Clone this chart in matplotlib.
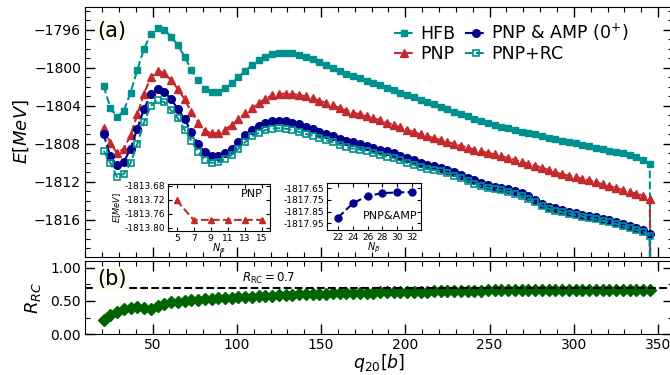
import numpy as np
import matplotlib
matplotlib.use("Agg")
import matplotlib.pyplot as plt
from matplotlib.ticker import MultipleLocator, FormatStrFormatter

# deformation grid (b)
q20 = np.arange(21, 346, 4)

E_hfb = [-1801.9, -1804.2, -1805.2, -1804.5, -1802.6, -1800.2, -1798.0, -1796.4, -1795.8, -1796.0,
         -1796.7, -1797.6, -1798.8, -1800.2, -1801.3, -1802.2, -1802.5, -1802.5, -1802.1, -1801.6,
         -1801.0, -1800.3, -1799.7, -1799.2, -1798.8, -1798.55, -1798.45, -1798.4, -1798.45, -1798.6,
         -1798.85, -1799.1, -1799.4, -1799.7, -1800.0, -1800.3, -1800.6, -1800.85, -1801.1, -1801.35,
         -1801.6, -1801.85, -1802.1, -1802.35, -1802.6, -1802.85, -1803.1, -1803.35, -1803.6, -1803.85,
         -1804.1, -1804.35, -1804.6, -1804.85, -1805.1, -1805.35, -1805.6, -1805.8, -1806.0, -1806.2,
         -1806.35, -1806.5, -1806.7, -1806.85, -1807.0, -1807.2, -1807.35, -1807.5, -1807.65, -1807.8,
         -1807.95, -1808.1, -1808.25, -1808.4, -1808.55, -1808.7, -1808.85, -1809.0, -1809.2, -1809.4,
         -1809.65, -1810.1]

E_pnp = [-1806.3, -1807.9, -1809.0, -1808.5, -1807.1, -1804.9, -1802.7, -1801.0, -1800.3, -1800.55,
         -1801.3, -1802.2, -1803.3, -1804.6, -1805.75, -1806.6, -1806.9, -1806.85, -1806.5, -1806.0,
         -1805.4, -1804.8, -1804.2, -1803.7, -1803.25, -1802.9, -1802.75, -1802.7, -1802.75, -1802.85,
         -1803.0, -1803.2, -1803.45, -1803.7, -1803.95, -1804.2, -1804.5, -1804.7, -1804.9, -1805.1,
         -1805.3, -1805.5, -1805.75, -1806.0, -1806.25, -1806.5, -1806.75, -1807.0, -1807.2, -1807.4,
         -1807.6, -1807.8, -1808.0, -1808.2, -1808.4, -1808.6, -1808.8, -1808.95, -1809.1, -1809.3,
         -1809.5, -1809.7, -1809.9, -1810.1, -1810.3, -1810.5, -1810.75, -1811.0, -1811.2, -1811.35,
         -1811.5, -1811.65, -1811.85, -1812.05, -1812.25, -1812.45, -1812.65, -1812.85, -1813.05, -1813.25,
         -1813.45, -1813.8]

E_amp = [-1807.0, -1809.3, -1810.25, -1809.9, -1808.5, -1806.4, -1804.3, -1802.8, -1802.2, -1802.5,
         -1803.3, -1804.3, -1805.4, -1806.7, -1808.0, -1808.85, -1809.25, -1809.3, -1809.0, -1808.5,
         -1807.8, -1807.1, -1806.5, -1806.1, -1805.8, -1805.6, -1805.55, -1805.6, -1805.75, -1805.95,
         -1806.2, -1806.45, -1806.7, -1806.95, -1807.2, -1807.45, -1807.7, -1807.85, -1808.0, -1808.2,
         -1808.4, -1808.6, -1808.8, -1809.0, -1809.25, -1809.5, -1809.75, -1810.0, -1810.2, -1810.35,
         -1810.5, -1810.7, -1810.95, -1811.25, -1811.55, -1811.85, -1812.15, -1812.35, -1812.5, -1812.6,
         -1812.75, -1812.95, -1813.2, -1813.5, -1813.9, -1814.3, -1814.6, -1814.8, -1815.0, -1815.15,
         -1815.3, -1815.45, -1815.6, -1815.75, -1815.9, -1816.05, -1816.25, -1816.45, -1816.7, -1816.9,
         -1817.1, -1817.5]

E_rc = [-1808.75, -1810.0, -1811.5, -1811.15, -1810.0, -1808.0, -1805.7, -1804.0, -1803.4, -1803.6,
        -1804.45, -1805.3, -1806.5, -1807.7, -1808.85, -1809.65, -1810.0, -1809.95, -1809.6, -1809.15,
        -1808.5, -1807.8, -1807.2, -1806.85, -1806.55, -1806.4, -1806.35, -1806.4, -1806.55, -1806.75,
        -1806.95, -1807.15, -1807.35, -1807.6, -1807.85, -1808.1, -1808.35, -1808.5, -1808.6, -1808.8,
        -1808.95, -1809.15, -1809.35, -1809.5, -1809.75, -1810.0, -1810.2, -1810.45, -1810.6, -1810.75,
        -1810.9, -1811.1, -1811.35, -1811.6, -1811.9, -1812.2, -1812.45, -1812.65, -1812.8, -1812.9,
        -1813.05, -1813.25, -1813.5, -1813.8, -1814.15, -1814.55, -1814.85, -1815.05, -1815.2, -1815.35,
        -1815.5, -1815.65, -1815.8, -1815.95, -1816.1, -1816.25, -1816.45, -1816.65, -1816.85, -1817.05,
        -1817.25, -1817.65]

R_rc = [0.22, 0.29, 0.34, 0.38, 0.40, 0.41, 0.40, 0.38, 0.43, 0.46,
        0.48, 0.49, 0.50, 0.51, 0.52, 0.53, 0.535, 0.54, 0.545, 0.55,
        0.555, 0.56, 0.565, 0.57, 0.575, 0.58, 0.585, 0.59, 0.595, 0.60,
        0.60, 0.605, 0.61, 0.61, 0.615, 0.615, 0.62, 0.62, 0.62, 0.625,
        0.625, 0.63, 0.63, 0.63, 0.635, 0.635, 0.635, 0.64, 0.64, 0.645,
        0.645, 0.65, 0.65, 0.65, 0.655, 0.655, 0.655, 0.66, 0.66, 0.66,
        0.66, 0.66, 0.66, 0.66, 0.66, 0.66, 0.66, 0.66, 0.66, 0.66,
        0.66, 0.66, 0.66, 0.665, 0.665, 0.665, 0.665, 0.67, 0.67, 0.67,
        0.67, 0.67]

# last point (scission) drops out of the frame
q_end = 346
E_end = -1840.0

# insets
N_phi = [5, 7, 9, 11, 13, 15]
E_Nphi = [-1813.722, -1813.778, -1813.778, -1813.778, -1813.778, -1813.778]
N_beta = [22, 24, 26, 28, 30, 32]
E_Nbeta = [-1817.90, -1817.78, -1817.716, -1817.693, -1817.687, -1817.684]

c_hfb = '#00918e'
c_pnp = '#c22b2b'
c_amp = '#00008b'
c_R = '#006400'

fig = plt.figure(figsize=(6.7, 3.75), dpi=100)
ax = fig.add_axes([0.127, 0.315, 0.878, 0.666])
axb = fig.add_axes([0.127, 0.109, 0.878, 0.195])

qq = list(q20) + [q_end]
ax.plot(qq, E_hfb + [E_end], ls='--', color=c_hfb, marker='s', ms=4.8, lw=1.5, label='HFB')
ax.plot(qq, E_pnp + [E_end], ls='--', color=c_pnp, marker='^', ms=5.5, lw=1.5, label='PNP')
ax.plot(qq, E_amp + [E_end], ls='--', color=c_amp, marker='o', ms=5.5, lw=1.5,
        label=r'PNP & AMP (0$^{+}$)')
ax.plot(qq, E_rc + [E_end], ls='--', color=c_hfb, marker='s', ms=4.8, mfc='none', mew=1.2,
        lw=1.5, label='PNP+RC')

ax.set_xlim(10, 359)
ax.set_ylim(-1819.9, -1793.6)
ax.yaxis.set_major_locator(MultipleLocator(4))
ax.yaxis.set_minor_locator(MultipleLocator(1))
ax.xaxis.set_major_locator(MultipleLocator(50))
ax.xaxis.set_minor_locator(MultipleLocator(10))
ax.tick_params(labelbottom=False)
ax.set_ylabel(r'$E[MeV]$', fontsize=13, labelpad=2)

ax.legend(ncol=2, loc='upper left', bbox_to_anchor=(0.51, 0.975), frameon=False, fontsize=12.5,
          handlelength=1.2, handletextpad=0.3, columnspacing=0.6, labelspacing=0.1, borderpad=0)
ax.text(0.02, 0.905, '(a)', transform=ax.transAxes, fontsize=15, va='center', ha='left',
        bbox=dict(facecolor='#fdfdf2', edgecolor='none', pad=1), zorder=5)

axb.plot(q20, R_rc, ls='--', color=c_R, marker='D', ms=6.5, lw=1.5)
axb.axhline(0.7, color='k', ls='--', lw=1.5)
axb.text(119, 0.73, r'$R_{\rm RC}=0.7$', fontsize=8.5, ha='center', va='bottom')
axb.set_xlim(10, 359)
axb.set_ylim(0, 1.1)
axb.set_yticks([0, 0.5, 1.0])
axb.yaxis.set_major_formatter(FormatStrFormatter('%.2f'))
axb.yaxis.set_minor_locator(MultipleLocator(0.25))
axb.xaxis.set_major_locator(MultipleLocator(50))
axb.xaxis.set_minor_locator(MultipleLocator(10))
axb.set_ylabel(r'$R_{RC}$', fontsize=13, labelpad=5)
axb.set_xlabel(r'$q_{20}[b]$', fontsize=12.5, labelpad=0)
axb.text(0.02, 0.75, '(b)', transform=axb.transAxes, fontsize=15, va='center', ha='left',
         bbox=dict(facecolor='#fdfdf2', edgecolor='none', pad=1), zorder=5)

for a in (ax, axb):
    a.tick_params(which='both', direction='in', top=True, right=True, labelsize=10, pad=3)
    a.tick_params(which='major', length=7, width=1)
    a.tick_params(which='minor', length=3.5, width=0.8)

# inset: PNP convergence in N_phi
ins1 = fig.add_axes([0.251, 0.384, 0.152, 0.125])
ins1.plot(N_phi, E_Nphi, ls='--', color=c_pnp, marker='^', ms=5, lw=1.5)
ins1.set_xlim(4, 16)
ins1.set_ylim(-1813.81, -1813.675)
ins1.set_xticks(N_phi)
ins1.set_yticks([-1813.68, -1813.72, -1813.76, -1813.80])
ins1.yaxis.set_major_formatter(FormatStrFormatter('%.2f'))
ins1.set_xlabel(r'$N_\varphi$', fontsize=7, labelpad=-1)
ins1.set_ylabel(r'$E[MeV]$', fontsize=6, labelpad=1)
ins1.text(0.93, 0.78, 'PNP', transform=ins1.transAxes, fontsize=8, ha='right', va='center')

# inset: PNP & AMP convergence in N_beta
ins2 = fig.add_axes([0.488, 0.387, 0.140, 0.125])
ins2.plot(N_beta, E_Nbeta, ls='--', color=c_amp, marker='o', ms=5, lw=1.5)
ins2.set_xlim(20.5, 33.2)
ins2.set_ylim(-1818.005, -1817.607)
ins2.set_xticks(N_beta)
ins2.set_yticks([-1817.65, -1817.75, -1817.85, -1817.95])
ins2.yaxis.set_major_formatter(FormatStrFormatter('%.2f'))
ins2.set_xlabel(r'$N_\beta$', fontsize=7, labelpad=-1)
ins2.text(0.97, 0.3, 'PNP&AMP', transform=ins2.transAxes, fontsize=8, ha='right', va='center')

for a in (ins1, ins2):
    a.tick_params(direction='in', top=True, right=True, labelsize=6.5, length=3, width=0.8, pad=2)

fig.savefig('out.png', dpi=100)
